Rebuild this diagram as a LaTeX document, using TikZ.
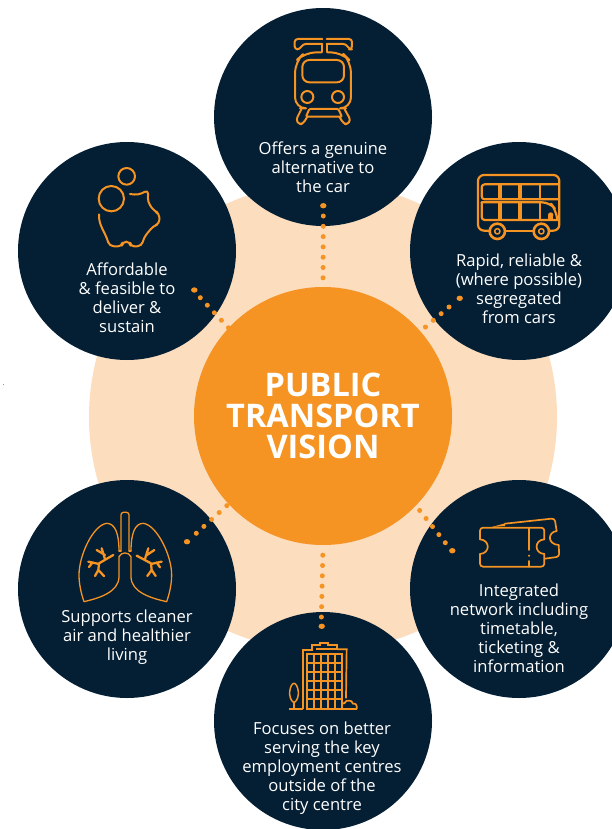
\documentclass[tikz,border=0pt]{standalone}
\usepackage{fontspec}
\setmainfont{Open Sans}
\definecolor{navy}{HTML}{041E33}
\definecolor{amber}{HTML}{F59323}
\definecolor{peach}{HTML}{FCDDBE}
\tikzset{
  bubble/.style={circle,fill=navy,minimum size=218pt,inner sep=0pt},
  lbl/.style={text=white,align=center,font=\fontsize{16.6}{19}\selectfont},
  icon/.style={draw=amber,line width=2pt,line cap=round,line join=round},
  dots/.style={draw=amber,line width=5pt,line cap=round,dash pattern=on 0pt off 10.3pt},
  enddot/.style={fill=amber},
}
\begin{document}
\begin{tikzpicture}[x=1pt,y=-1pt]
\useasboundingbox (0,0) rectangle (612,829);
\fill[white] (0,0) rectangle (612,829);
\clip (0,0) rectangle (612,829);
\fill[gray] (3.5,384.5) circle (0.5);
\node[circle,fill=peach,minimum size=468pt,inner sep=0pt] (halo) at (323,417) {};
\node[bubble] (b1) at (323,117) {};
\node[bubble] (b2) at (519,251) {};
\node[bubble] (b3) at (519,589) {};
\node[bubble] (b4) at (323,721) {};
\node[bubble] (b5) at (127,589) {};
\node[bubble] (b6) at (127,251) {};
\node[circle,fill=amber,minimum size=258pt,inner sep=0pt,text=white,align=center,font=\bfseries\fontsize{32.5}{31}\selectfont] (vision) at (323,416) {PUBLIC\\TRANSPORT\\VISION};
\node[lbl] (t1) at (323,167.5) {Offers a genuine\\alternative to\\the car};
\node[lbl] (t2) at (519,288.5) {Rapid, reliable \&\\(where possible)\\segregated\\from cars};
\node[lbl] (t3) at (519,628) {Integrated\\network including\\timetable,\\ticketing \&\\information};
\node[lbl] (t4) at (322,768) {Focuses on better\\serving the key\\employment centres\\outside of the\\city centre};
\node[lbl] (t5) at (127,637.5) {Supports cleaner\\air and healthier\\living};
\node[lbl] (t6) at (127,297.5) {Affordable\\\& feasible to\\deliver \&\\sustain};
\coordinate (d1) at (323.3,205.7); \coordinate (e1) at (323.3,216);
\coordinate (d2) at (459.7,298.3); \coordinate (e2) at (449,307);
\coordinate (d3) at (452.3,550.7); \coordinate (e3) at (445.3,542.7);
\coordinate (d4) at (321.7,626.3); \coordinate (e4) at (321.4,617);
\coordinate (d5) at (187,541.7);   \coordinate (e5) at (196.3,533.3);
\coordinate (d6) at (194.3,290);   \coordinate (e6) at (200.3,297.7);
\draw[dots] (e1) -- (vision.90);
\draw[dots] (e2) -- (vision.41);
\draw[dots] (e3) -- (vision.-44);
\draw[dots] (e4) -- (vision.-90.7);
\draw[dots] (e5) -- (vision.-137);
\draw[dots] (e6) -- (vision.137.6);
\foreach \d in {d1,d2,d3,d4,d5,d6} \fill[enddot] (\d) ellipse[x radius=3.2,y radius=2.7];
% tram
\begin{scope}[icon,shift={(270,20)},x=0.3333pt,y=-0.3333pt,rounded corners=3pt]
\draw[sharp corners] (157,96) -- (157,72);
\draw[sharp corners] (170,96) -- (170,72);
\draw (157,72) -- (98,72) -- (90,88) -- (74,88) -- (74,57) -- (157,57);
\draw (170,72) -- (229,72) -- (237,88) -- (246,88) -- (246,57) -- (170,57);
\draw[rounded corners=11pt] (155,97) -- (105,97) -- (75,125) -- (75,265) -- (90,265);
\draw[rounded corners=11pt] (172,97) -- (215,97) -- (243,125) -- (243,265) -- (228,265);
\draw[rounded corners=7pt] (97,187) -- (97,120) -- (222,120) -- (222,187) -- cycle;
\draw[sharp corners] (112,231) circle[radius=18];
\draw[sharp corners] (204,231) circle[radius=18];
\draw (94,268) -- (78,300) -- (88,314) -- (100,310) -- (112,290);
\draw (224,268) -- (242,300) -- (232,314) -- (220,310) -- (208,290);
\draw[rounded corners=1pt] (118,267) -- (205,267) -- (216,290) -- (108,290) -- cycle;
\end{scope}
% piggy bank
\begin{scope}[icon,line width=2pt,shift={(80,150)},x=0.3333pt,y=-0.3333pt]
\draw (140,79) circle[radius=25];
\draw (94,146) circle[radius=38];
\draw[rounded corners=4pt] (57,193) .. controls (55,225) and (75,245) .. (88,288) -- (125,290) -- (128,275) -- (150,275) -- (152,290) -- (185,288) -- (192,262) -- (220,228) -- (238,222) -- (238,190) -- (222,183) -- (203,155) -- (205,120) -- (175,135) -- (150,132);
\end{scope}
% bus
\begin{scope}[icon,line width=2.2pt,shift={(460,160)},x=0.3333pt,y=-0.3333pt]
\draw[rounded corners=6pt] (88,212) -- (54,212) -- (54,45) -- (298,45) -- (298,212) -- (270,212);
\draw (135,212) -- (218,212);
\draw[line width=2.6pt] (112,214) circle[radius=23];
\draw[line width=2.6pt] (244,214) circle[radius=23];
\draw[line width=1.5pt] (112,214) circle[radius=8];
\draw[line width=1.5pt] (244,214) circle[radius=8];
\draw[rounded corners=3pt] (297,73) -- (65,73) -- (65,118) -- (297,118);
\draw[line width=4pt,line cap=butt] (119,73) -- (119,118) (179,73) -- (179,118);
\draw[line width=2.6pt,line cap=butt] (240,73) -- (240,118);
\draw[rounded corners=3pt] (65,127) -- (65,180) -- (292,180);
\draw[rounded corners=8pt] (65,127) -- (270,127) -- (288,150) -- (292,180);
\draw[line width=4pt,line cap=butt] (119,127) -- (119,180) (179,127) -- (179,180);
\draw[line width=2.6pt,line cap=butt] (240,127) -- (240,180);
\fill[amber,draw=none] (272,165) circle[radius=8];
\fill[amber,draw=none] (265,165) rectangle (280,180);
\end{scope}
% tickets
\begin{scope}[icon,line width=1.7pt,shift={(460,505)},x=0.3333pt,y=-0.3333pt]
\draw[rounded corners=3pt] (60,103) -- (60,68) -- (253,68) -- (253,103);
\draw (253,103) .. controls (222,105) and (222,145) .. (253,147);
\draw[rounded corners=3pt] (253,147) -- (253,185) -- (60,185) -- (60,147);
\draw (60,147) .. controls (91,145) and (91,105) .. (60,103);
\draw (207,70) -- (207,135) (207,168) -- (207,185);
\fill[amber,draw=none] (207,152) circle[radius=3.5];
\fill[amber,draw=none] (95,66) -- (135,55) -- (135,63) -- cycle;
\draw[rounded corners=3pt] (135,56) -- (284,40) -- (290,78);
\draw (290,78) .. controls (262,82) and (262,118) .. (296,120);
\draw[rounded corners=3pt] (296,120) -- (298,155) -- (255,161);
\end{scope}
% lungs
\begin{scope}[icon,line width=1.3pt,shift={(65,505)},x=0.3333pt,y=-0.3333pt]
\draw[rounded corners=2.5pt] (168,138) -- (168,22) -- (192,22) -- (192,138);
\draw (162,138) .. controls (162,85) and (150,55) .. (125,55) .. controls (85,60) and (42,150) .. (42,210) .. controls (42,240) and (50,270) .. (57,290) .. controls (100,280) and (162,262) .. (162,215) -- (162,155) .. controls (170,140) and (190,140) .. (198,155) -- (198,215) .. controls (198,262) and (260,280) .. (305,290) .. controls (312,270) and (320,240) .. (320,210) .. controls (320,150) and (275,60) .. (235,55) .. controls (210,55) and (198,85) .. (198,138);
\draw (162,138) -- (168,138) (192,138) -- (198,138);
\begin{scope}[line width=2.3pt]
\draw (145,150) -- (102,175) -- (100,195) (120,162) -- (110,130) (120,150) -- (95,135) (102,177) -- (70,170) (72,186) -- (83,172) (100,195) -- (90,213) (100,195) -- (117,213);
\draw (215,152) -- (258,175) -- (260,195) (240,162) -- (250,130) (243,152) -- (268,135) (258,177) -- (290,170) (285,187) -- (275,172) (260,195) -- (247,213) (260,195) -- (272,213);
\end{scope}
\end{scope}
% building
\begin{scope}[icon,line width=1.7pt,line cap=butt,line join=miter,shift={(270,630)},x=0.3333pt,y=-0.3333pt]
\draw (98,237) -- (98,60) -- (125,60) -- (125,45) -- (150,45) -- (150,38) -- (175,38) -- (175,45) -- (202,45) -- (202,58) -- (138,58);
\draw (202,58) -- (230,58) -- (228,205);
\draw (111,72) rectangle (217,237);
\foreach \vx in {132,153,175,195} \draw (\vx,72) -- (\vx,237);
\foreach \hy in {98,125,152,180,207} \draw (111,\hy) -- (217,\hy);
\draw[line width=1.5pt] (72,218) .. controls (50,205) and (60,160) .. (72,160) .. controls (84,160) and (94,205) .. (72,218);
\draw (72,218) -- (72,237) (57,237) -- (100,237);
\draw[rounded corners=3pt] (217,236) .. controls (212,222) and (222,222) .. (225,224) .. controls (228,210) and (245,212) .. (246,224) .. controls (260,220) and (262,237) .. (250,237) -- (215,237);
\end{scope}
\end{tikzpicture}
\end{document}
